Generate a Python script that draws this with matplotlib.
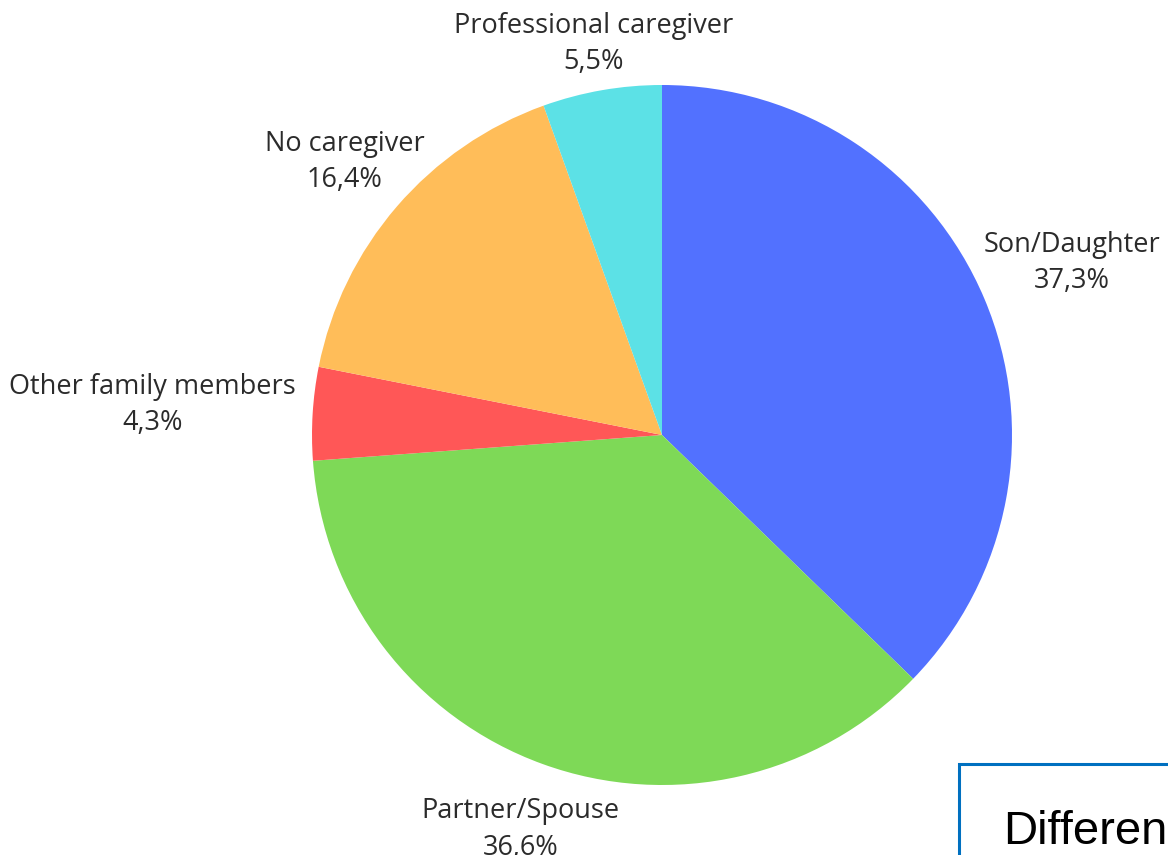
"""Pie chart of who acts as the main caregiver."""

import matplotlib

matplotlib.use("Agg")
import matplotlib.pyplot as plt
import numpy as np
from matplotlib.patches import Rectangle

categories = [
    "Son/Daughter",
    "Partner/Spouse",
    "Other family members",
    "No caregiver",
    "Professional caregiver",
]
shares = [37.3, 36.6, 4.3, 16.4, 5.5]
colors = ["#5271FF", "#7ED957", "#FF5757", "#FFBD59", "#5CE1E6"]

# small hand nudges (pixels) on top of the automatic outside placement
label_nudge = [(3, 0), (-1, -7), (-17, 0), (8, -7), (1, -7)]

WIDTH, HEIGHT = 1168, 855
fig = plt.figure(figsize=(WIDTH / 100, HEIGHT / 100), dpi=100)
ax = fig.add_axes([0, 0, 1, 1])

center = (662, HEIGHT - 435)
radius = 350
wedges, _ = ax.pie(
    shares,
    colors=colors,
    startangle=90,
    counterclock=False,
    center=center,
    radius=radius,
    wedgeprops=dict(linewidth=0),
    frame=True,
)
ax.set_xlim(0, WIDTH)
ax.set_ylim(0, HEIGHT)
ax.axis("off")

# outside labels: nearest edge of the text box sits just at the rim
renderer = fig.canvas.get_renderer()
for wedge, name, value, (nx, ny) in zip(wedges, categories, shares, label_nudge):
    mid = np.deg2rad((wedge.theta1 + wedge.theta2) / 2)
    c, s = np.cos(mid), np.sin(mid)
    label = f"{name}\n{value:.1f}%".replace(".", ",")
    txt = ax.text(
        center[0], center[1], label, ha="center", va="center",
        multialignment="center", fontsize=19.5, family="Open Sans",
        color="#2b2b2b", linespacing=1.4,
    )
    box = txt.get_window_extent(renderer)
    reach = radius - 2 + abs(c) * box.width / 2 + abs(s) * box.height / 2
    txt.set_position((center[0] + reach * c + nx, center[1] + reach * s + ny))

# cropped slide text box in the lower right corner
ax.add_patch(Rectangle((959, -100), 400, HEIGHT - 764 + 100, facecolor="white",
                       edgecolor="#0070C0", linewidth=2.2, clip_on=False))
ax.text(1003, HEIGHT - 844, "Differences", fontsize=34, family="Liberation Sans",
        color="black", va="baseline", ha="left", clip_on=False)

fig.savefig("out.png", dpi=100)
